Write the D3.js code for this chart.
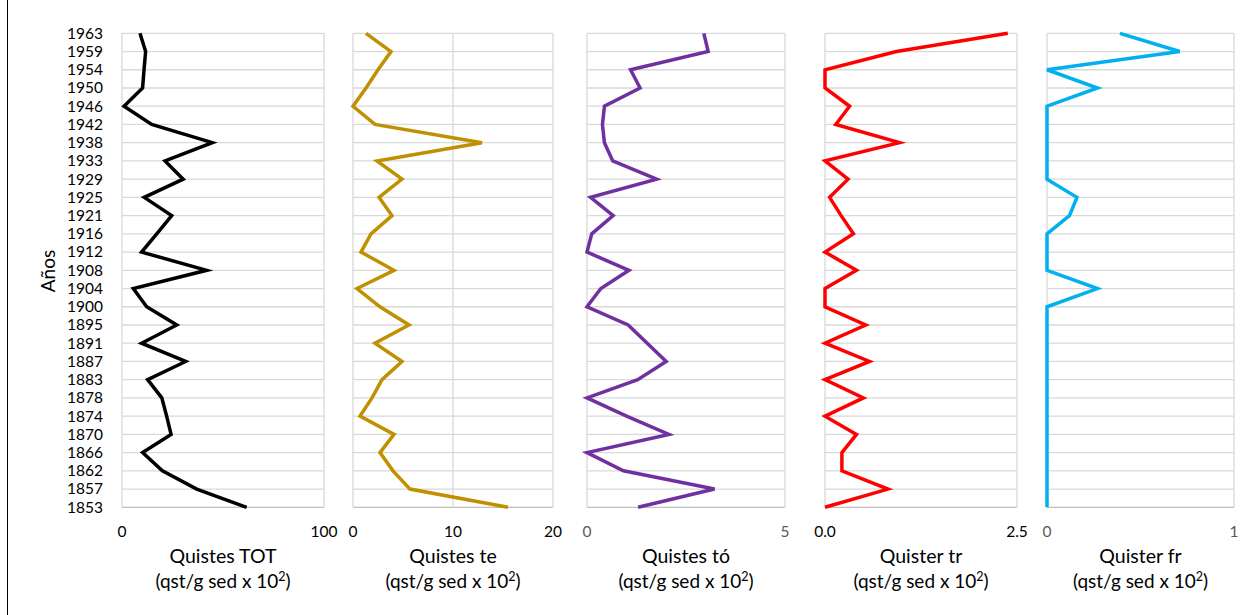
<!DOCTYPE html>
<html>
<head>
<meta charset="utf-8">
<script src="https://cdn.jsdelivr.net/npm/d3@7"></script>
<style>
  body { margin: 0; background: #fff; }
  svg { display: block; font-family: Lato, "Open Sans", sans-serif; }
</style>
</head>
<body>
<div id="chart"></div>
<script>
// years, top to bottom
var years = ["1963","1959","1954","1950","1946","1942","1938","1933","1929","1925","1921","1916","1912",
             "1908","1904","1900","1895","1891","1887","1883","1878","1874","1870","1866","1862","1857","1853"];

// series values (qst/g sed x 10^2), same order as years
var quistesTOT = [8.9,11.7,10.9,10.2,1,14.7,44.7,21.3,30.3,11,24.6,17.2,9.7,
                  41.9,5.6,12.2,27.1,9.7,31.5,12.7,19.7,22.1,24.3,10.2,20,37,61.7];
var quistesTe  = [1.3,3.8,2.5,1.3,0,2.2,12.9,2.4,4.9,2.6,3.9,1.8,0.8,
                  4.1,0.4,2.7,5.6,2.2,4.9,2.9,1.9,0.7,4.1,2.7,4.0,5.7,15.5];
var quistesTo  = [2.95,3.06,1.1,1.34,0.44,0.39,0.44,0.65,1.76,0.09,0.66,0.12,0,
                  1.06,0.35,0,1.04,1.52,2.0,1.28,0,1.0,2.07,0,0.92,3.22,1.29];
var quisterTr  = [2.38,0.93,0,0,0.32,0.14,0.97,0,0.30,0.06,0.21,0.37,0,
                  0.41,0,0,0.53,0,0.58,0,0.50,0,0.41,0.22,0.22,0.82,0];
var quisterFr  = [0.39,0.71,0,0.27,0,0,0,0,0,0.16,0.12,0,0,
                  0,0.27,0,0,0,0,0,0,0,0,0,0,0,0];

// panel titles and axis ticks
var titles = ["Quistes TOT","Quistes te","Quistes tó","Quister tr","Quister fr"];
var axisMax = [100, 20, 5, 2.5, 1];
var tickValues = [[0,100],[0,10,20],[0,5],[0,2.5],[0,1]];
var tickFormats = ["d","d","d",".1f","d"];

var width = 1241, height = 615;

// layout of each panel (pixel ranges)
var panelX = [[122,324],[353,553],[587,785],[825,1017],[1047,1234]];
var colors = ["#000000","#BF9000","#7030A0","#FF0000","#00B0F0"];
var tickColors = ["#000","#000","#595959","#000","#595959"];
var series = [quistesTOT, quistesTe, quistesTo, quisterTr, quisterFr];

var svg = d3.select("#chart").append("svg")
    .attr("width", width)
    .attr("height", height);

// left border of the chart area
svg.append("line")
    .attr("x1", 7.5).attr("x2", 7.5)
    .attr("y1", 0).attr("y2", height)
    .attr("stroke", "#000").attr("stroke-width", 1);

var y = d3.scalePoint().domain(years).range([33.3, 507.3]);

// year labels
svg.append("g")
    .selectAll("text")
    .data(years)
    .enter()
    .append("text")
    .attr("x", 103)
    .attr("y", d => y(d))
    .attr("dy", "0.35em")
    .style("text-anchor", "end")
    .style("font-size", "15.5px")
    .style("fill", "#000")
    .text(d => d);

svg.append("text")
    .attr("transform", "translate(55,271) rotate(-90)")
    .style("text-anchor", "middle")
    .style("font-size", "19px")
    .text("Años");

series.forEach(function(vals, p) {
    var x = d3.scaleLinear().domain([0, axisMax[p]]).range(panelX[p]);
    var g = svg.append("g");

    // horizontal gridlines
    g.selectAll("line.h")
        .data(years)
        .enter()
        .append("line")
        .attr("x1", x(0)).attr("x2", x(axisMax[p]))
        .attr("y1", d => y(d)).attr("y2", d => y(d))
        .attr("stroke", (d, i) => i === years.length - 1 ? "#bfbfbf" : "#d9d9d9")
        .attr("stroke-width", 1.3);

    // vertical gridlines
    g.selectAll("line.v")
        .data(tickValues[p])
        .enter()
        .append("line")
        .attr("x1", d => x(d)).attr("x2", d => x(d))
        .attr("y1", y(years[0])).attr("y2", y(years[years.length - 1]))
        .attr("stroke", "#d9d9d9")
        .attr("stroke-width", 1.3);

    // tick labels
    g.selectAll("text.tick")
        .data(tickValues[p])
        .enter()
        .append("text")
        .attr("x", d => x(d))
        .attr("y", 532)
        .attr("dy", "0.35em")
        .style("text-anchor", "middle")
        .style("font-size", "15.5px")
        .style("fill", tickColors[p])
        .text(d => d3.format(tickFormats[p])(d));

    var line = d3.line()
        .x(d => x(d))
        .y((d, i) => y(years[i]));

    g.append("path")
        .datum(vals)
        .attr("d", line)
        .attr("fill", "none")
        .attr("stroke", colors[p])
        .attr("stroke-width", 3.5)
        .attr("stroke-linejoin", "miter");

    // axis title
    var cx = (panelX[p][0] + panelX[p][1]) / 2;
    g.append("text")
        .attr("x", cx)
        .attr("y", 563)
        .style("text-anchor", "middle")
        .style("font-size", "19.5px")
        .text(titles[p]);

    var sub = g.append("text")
        .attr("x", cx)
        .attr("y", 588)
        .style("text-anchor", "middle")
        .style("font-size", "19px");
    sub.append("tspan").text("(qst/g sed x 10");
    sub.append("tspan").attr("dy", -7).style("font-size", "12.5px").text("2");
    sub.append("tspan").attr("dy", 7).text(")");
});
</script>
</body>
</html>
